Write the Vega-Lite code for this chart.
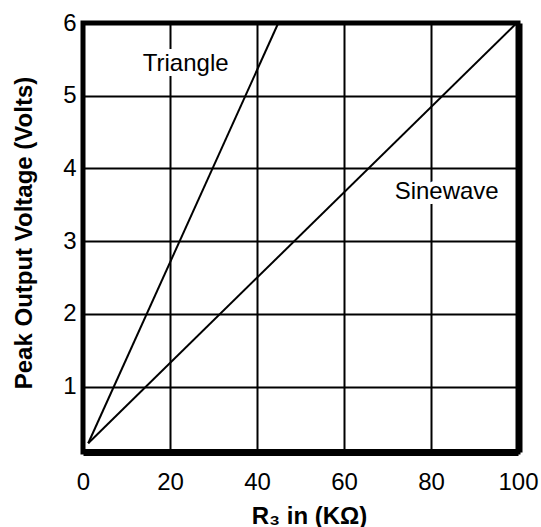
{
  "$schema": "https://vega.github.io/schema/vega-lite/v6.json",
  "width": 435,
  "height": 429,
  "autosize": {"type": "none"},
  "padding": {"left": 83, "top": 23, "right": 23, "bottom": 75},
  "background": "white",
  "config": {
    "view": {"stroke": "black", "strokeWidth": 5},
    "font": "Liberation Sans",
    "axis": {
      "labelFont": "Liberation Sans",
      "titleFont": "Liberation Sans",
      "labelFontSize": 24,
      "labelColor": "black",
      "titleColor": "black",
      "titleFontSize": 24,
      "titleFontWeight": "bold",
      "ticks": false,
      "grid": true,
      "gridColor": "black",
      "gridWidth": 2,
      "gridOpacity": 1,
      "labelFlush": false,
      "labelBound": false,
      "labelOverlap": false
    }
  },
  "resolve": {"axis": {"y": "independent"}},
  "datasets": {
    "curves": [
      {"r": 1.2, "v": 0.22, "wave": "Triangle"},
      {"r": 44.9, "v": 6, "wave": "Triangle"},
      {"r": 1.2, "v": 0.22, "wave": "Sinewave"},
      {"r": 99.7, "v": 6, "wave": "Sinewave"}
    ],
    "labels": [
      {"r": 23.6, "v": 5.34, "text": "Triangle"},
      {"r": 83.6, "v": 3.575, "text": "Sinewave"}
    ]
  },
  "layer": [
    {
      "data": {"name": "curves"},
      "mark": {"type": "line", "color": "black", "strokeWidth": 2},
      "encoding": {
        "x": {
          "field": "r",
          "type": "quantitative",
          "scale": {"domain": [0, 100], "nice": false},
          "axis": {
            "values": [0, 20, 40, 60, 80, 100],
            "format": "d",
            "title": "R₃ in (KΩ)",
            "titleX": 226,
            "titleY": 71,
            "titleBaseline": "alphabetic",
            "titleAlign": "center",
            "labelPadding": 18,
            "domain": true,
            "domainColor": "black",
            "domainWidth": 7
          }
        },
        "y": {
          "field": "v",
          "type": "quantitative",
          "scale": {"domain": [0.1, 6], "nice": false, "zero": false},
          "axis": {
            "values": [1, 2, 3, 4, 5, 6],
            "format": "d",
            "title": "Peak Output Voltage (Volts)",
            "titleAngle": -90,
            "titleX": -52,
            "titleY": 209.5,
            "titleBaseline": "alphabetic",
            "titleAlign": "center",
            "labelPadding": 7,
            "domain": false
          }
        },
        "detail": {"field": "wave"}
      }
    },
    {
      "data": {"name": "labels"},
      "mark": {"type": "text", "font": "Liberation Sans", "fontSize": 24, "align": "center", "baseline": "alphabetic", "fill": "white", "stroke": "white", "strokeWidth": 10},
      "encoding": {
        "x": {"field": "r", "type": "quantitative"},
        "y": {
          "field": "v",
          "type": "quantitative",
          "axis": {
            "orient": "right",
            "title": null,
            "labels": false,
            "grid": false,
            "ticks": false,
            "domain": true,
            "domainColor": "black",
            "domainWidth": 6,
            "offset": 1
          }
        },
        "text": {"field": "text"}
      }
    },
    {
      "data": {"name": "labels"},
      "mark": {"type": "text", "font": "Liberation Sans", "fontSize": 24, "align": "center", "baseline": "alphabetic", "fill": "black"},
      "encoding": {
        "x": {"field": "r", "type": "quantitative"},
        "y": {"field": "v", "type": "quantitative", "axis": null},
        "text": {"field": "text"}
      }
    }
  ]
}
